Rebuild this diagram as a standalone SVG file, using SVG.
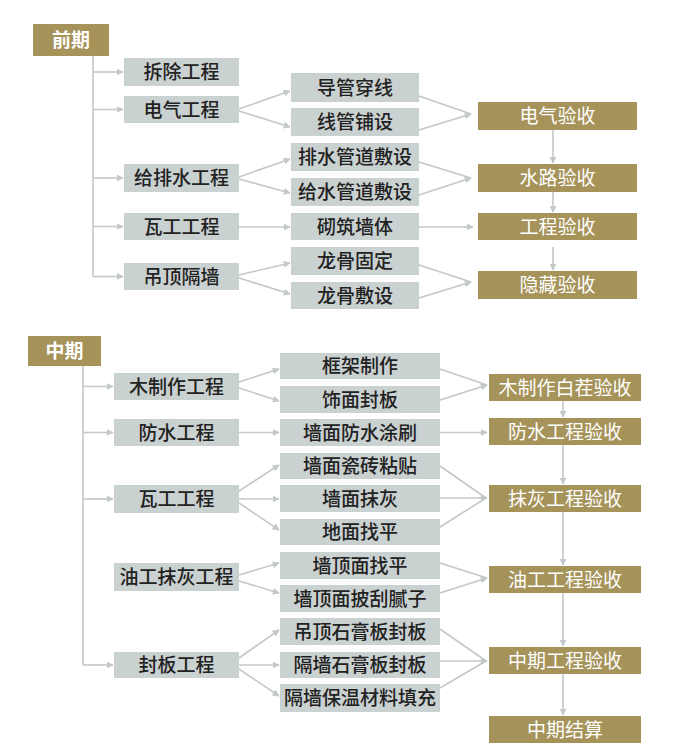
<svg xmlns="http://www.w3.org/2000/svg" width="696" height="756" viewBox="0 0 696 756">
<defs>
<marker id="ah" viewBox="0 0 10 10" refX="9" refY="5" markerWidth="7" markerHeight="7" markerUnits="userSpaceOnUse" orient="auto">
<path d="M0,0 L10,5 L0,10 z" fill="#c3c8cb"/>
</marker>
<style>
.g{fill:#cad1d1}
.o{fill:#a5935a}
.t{font-family:"Noto Sans CJK SC","Noto Sans",sans-serif;font-size:19px;font-weight:500;fill:#222222;text-anchor:middle}
.w{font-family:"Noto Sans CJK SC","Noto Sans",sans-serif;font-size:19px;fill:#ffffff;text-anchor:middle}
.b{font-weight:bold}
.c line,.c polyline{stroke:#c3c8cb;stroke-width:1.6;fill:none}
.c .a{marker-end:url(#ah)}
</style>
</defs>
<rect width="696" height="756" fill="#ffffff"/>

<g id="connectors" class="c">
<line x1="93" y1="56" x2="93" y2="276.5"/>
<line class="a" x1="93" y1="72" x2="123" y2="72"/>
<line class="a" x1="93" y1="109.5" x2="123" y2="109.5"/>
<line class="a" x1="93" y1="178" x2="123" y2="178"/>
<line class="a" x1="93" y1="226.5" x2="123" y2="226.5"/>
<line class="a" x1="93" y1="276.5" x2="123" y2="276.5"/>
<line class="a" x1="239" y1="109" x2="290" y2="91"/>
<line class="a" x1="239" y1="111" x2="290" y2="127"/>
<line class="a" x1="239" y1="177" x2="290" y2="159"/>
<line class="a" x1="239" y1="179" x2="290" y2="193"/>
<line class="a" x1="239" y1="227" x2="290" y2="227"/>
<line class="a" x1="239" y1="275" x2="290" y2="263"/>
<line class="a" x1="239" y1="278" x2="290" y2="294"/>
<line x1="419" y1="96" x2="471" y2="114"/>
<line class="a" x1="419" y1="130" x2="471" y2="114"/>
<line x1="419" y1="162" x2="471" y2="178"/>
<line class="a" x1="419" y1="195" x2="471" y2="178"/>
<line class="a" x1="419" y1="227" x2="473" y2="227"/>
<line x1="419" y1="265" x2="471" y2="282"/>
<line class="a" x1="419" y1="298" x2="471" y2="282"/>
<line class="a" x1="553" y1="130" x2="553" y2="163"/>
<line class="a" x1="553" y1="192" x2="553" y2="212"/>
<line class="a" x1="553" y1="247" x2="553" y2="270"/>

<line x1="83" y1="366" x2="83" y2="665"/>
<line class="a" x1="83" y1="386.5" x2="113" y2="386.5"/>
<line class="a" x1="83" y1="432.5" x2="113" y2="432.5"/>
<line class="a" x1="83" y1="499" x2="113" y2="499"/>
<line class="a" x1="83" y1="665" x2="113" y2="665"/>
<line class="a" x1="239" y1="382" x2="279" y2="369"/>
<line class="a" x1="239" y1="388" x2="279" y2="401"/>
<line class="a" x1="239" y1="432.5" x2="279" y2="432.5"/>
<line class="a" x1="239" y1="491" x2="279" y2="465"/>
<line class="a" x1="239" y1="499" x2="279" y2="499"/>
<line class="a" x1="239" y1="503" x2="279" y2="530"/>
<line class="a" x1="239" y1="575" x2="279" y2="563"/>
<line class="a" x1="239" y1="581" x2="279" y2="593"/>
<line class="a" x1="239" y1="658" x2="279" y2="630"/>
<line class="a" x1="239" y1="665" x2="279" y2="665"/>
<line class="a" x1="239" y1="669" x2="279" y2="696"/>
<line x1="440" y1="369" x2="487" y2="385"/>
<line class="a" x1="440" y1="400" x2="487" y2="385"/>
<line class="a" x1="440" y1="432.5" x2="487" y2="432.5"/>
<line x1="440" y1="466" x2="486" y2="498"/>
<line class="a" x1="440" y1="498" x2="487" y2="498"/>
<line x1="440" y1="527" x2="486" y2="498"/>
<line x1="440" y1="563" x2="487" y2="578"/>
<line class="a" x1="440" y1="593" x2="487" y2="578"/>
<line x1="440" y1="629" x2="486" y2="661"/>
<line class="a" x1="440" y1="661" x2="487" y2="661"/>
<line x1="440" y1="688" x2="486" y2="661"/>
<line class="a" x1="563" y1="401" x2="563" y2="417"/>
<line class="a" x1="563" y1="445" x2="563" y2="484"/>
<line class="a" x1="563" y1="512" x2="563" y2="565"/>
<line class="a" x1="563" y1="593" x2="563" y2="646"/>
<line class="a" x1="563" y1="674" x2="563" y2="715"/>
</g>

<g id="qianqi"><rect class="o" x="33" y="24" width="76" height="32"/><text class="w b" x="71" y="47">前期</text></g>
<g id="chaichu"><rect class="g" x="124" y="58" width="115" height="28"/><text class="t" x="181.5" y="79">拆除工程</text></g>
<g id="dianqi"><rect class="g" x="124" y="96" width="115" height="27"/><text class="t" x="181.5" y="116.5">电气工程</text></g>
<g id="geipaishui"><rect class="g" x="124" y="164" width="115" height="28"/><text class="t" x="181.5" y="185">给排水工程</text></g>
<g id="wagong1"><rect class="g" x="124" y="213" width="115" height="27"/><text class="t" x="181.5" y="233.5">瓦工工程</text></g>
<g id="diaoding"><rect class="g" x="124" y="263" width="115" height="27"/><text class="t" x="181.5" y="283.5">吊顶隔墙</text></g>

<g id="daoguan"><rect class="g" x="291" y="73" width="128" height="29"/><text class="t" x="355" y="94.5">导管穿线</text></g>
<g id="xianguan"><rect class="g" x="291" y="108" width="128" height="28"/><text class="t" x="355" y="129">线管铺设</text></g>
<g id="paishui"><rect class="g" x="291" y="143" width="128" height="28"/><text class="t" x="355" y="164">排水管道敷设</text></g>
<g id="geishui"><rect class="g" x="291" y="178" width="128" height="28"/><text class="t" x="355" y="199">给水管道敷设</text></g>
<g id="qizhu"><rect class="g" x="291" y="213" width="128" height="27"/><text class="t" x="355" y="233.5">砌筑墙体</text></g>
<g id="longgu1"><rect class="g" x="291" y="247" width="128" height="28"/><text class="t" x="355" y="268">龙骨固定</text></g>
<g id="longgu2"><rect class="g" x="291" y="282" width="128" height="27"/><text class="t" x="355" y="302.5">龙骨敷设</text></g>

<g id="dianqiys"><rect class="o" x="478" y="102" width="159" height="28"/><text class="w" x="557.5" y="123">电气验收</text></g>
<g id="shuiluys"><rect class="o" x="478" y="164" width="159" height="28"/><text class="w" x="557.5" y="185">水路验收</text></g>
<g id="gongchengys"><rect class="o" x="478" y="213" width="159" height="27"/><text class="w" x="557.5" y="233.5">工程验收</text></g>
<g id="yincangys"><rect class="o" x="478" y="271" width="159" height="28"/><text class="w" x="557.5" y="292">隐藏验收</text></g>

<g id="zhongqi"><rect class="o" x="28" y="336" width="73" height="30"/><text class="w b" x="64.5" y="358">中期</text></g>
<g id="muzhizuo"><rect class="g" x="114" y="373" width="125" height="27"/><text class="t" x="176.5" y="393.5">木制作工程</text></g>
<g id="fangshui"><rect class="g" x="114" y="419" width="125" height="27"/><text class="t" x="176.5" y="439.5">防水工程</text></g>
<g id="wagong2"><rect class="g" x="114" y="485" width="125" height="28"/><text class="t" x="176.5" y="506">瓦工工程</text></g>
<g id="yougong"><rect class="g" x="114" y="563" width="125" height="28"/><text class="t" x="176.5" y="584">油工抹灰工程</text></g>
<g id="fengban"><rect class="g" x="114" y="652" width="125" height="26"/><text class="t" x="176.5" y="672">封板工程</text></g>

<g id="kuangjia"><rect class="g" x="280" y="353" width="160" height="26"/><text class="t" x="360" y="373">框架制作</text></g>
<g id="shimian"><rect class="g" x="280" y="386" width="160" height="27"/><text class="t" x="360" y="406.5">饰面封板</text></g>
<g id="qiangfangshui"><rect class="g" x="280" y="419" width="160" height="27"/><text class="t" x="360" y="439.5">墙面防水涂刷</text></g>
<g id="cizhuan"><rect class="g" x="280" y="453" width="160" height="26"/><text class="t" x="360" y="473">墙面瓷砖粘贴</text></g>
<g id="mohui"><rect class="g" x="280" y="485" width="160" height="27"/><text class="t" x="360" y="505.5">墙面抹灰</text></g>
<g id="dimian"><rect class="g" x="280" y="519" width="160" height="26"/><text class="t" x="360" y="539">地面找平</text></g>
<g id="qiangding1"><rect class="g" x="280" y="552" width="160" height="27"/><text class="t" x="360" y="572.5">墙顶面找平</text></g>
<g id="qiangding2"><rect class="g" x="280" y="585" width="160" height="27"/><text class="t" x="360" y="605.5">墙顶面披刮腻子</text></g>
<g id="diaodingsg"><rect class="g" x="280" y="618" width="160" height="27"/><text class="t" x="360" y="638.5">吊顶石膏板封板</text></g>
<g id="geqiangsg"><rect class="g" x="280" y="652" width="160" height="26"/><text class="t" x="360" y="672">隔墙石膏板封板</text></g>
<g id="baowen"><rect class="g" x="280" y="684" width="160" height="28"/><text class="t" x="360" y="705">隔墙保温材料填充</text></g>

<g id="baichays"><rect class="o" x="489" y="374" width="152" height="27"/><text class="w" x="565" y="394.5">木制作白茬验收</text></g>
<g id="fangshuiys"><rect class="o" x="489" y="418" width="152" height="27"/><text class="w" x="565" y="438.5">防水工程验收</text></g>
<g id="mohuiys"><rect class="o" x="489" y="485" width="152" height="27"/><text class="w" x="565" y="505.5">抹灰工程验收</text></g>
<g id="yougongys"><rect class="o" x="489" y="566" width="152" height="27"/><text class="w" x="565" y="586.5">油工工程验收</text></g>
<g id="zhongqiys"><rect class="o" x="489" y="647" width="152" height="27"/><text class="w" x="565" y="667.5">中期工程验收</text></g>
<g id="zhongqijs"><rect class="o" x="489" y="716" width="152" height="27"/><text class="w" x="565" y="736.5">中期结算</text></g>
</svg>
